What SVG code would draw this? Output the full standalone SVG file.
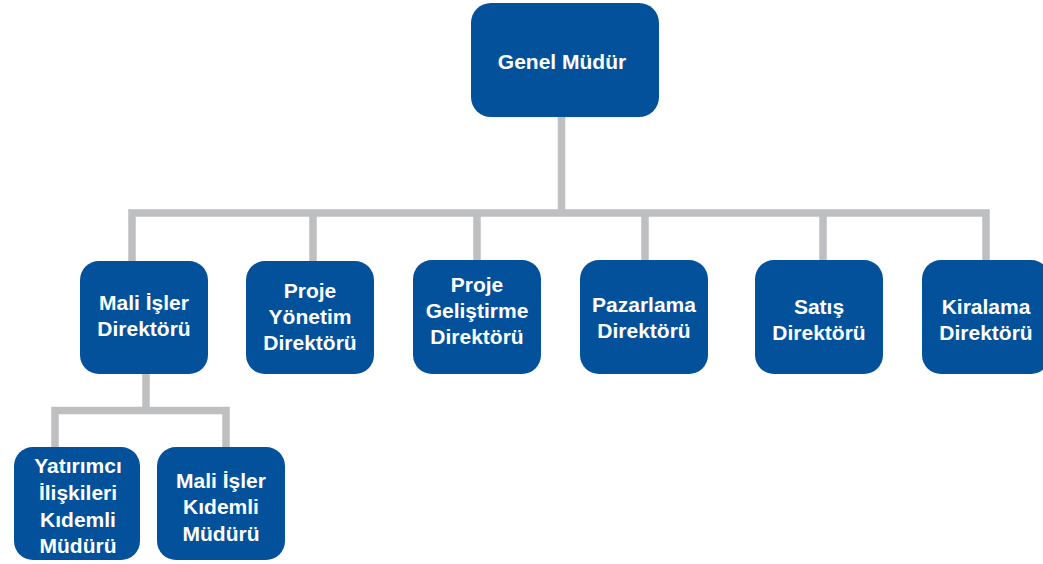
<svg xmlns="http://www.w3.org/2000/svg" width="1043" height="564" viewBox="0 0 1043 564">
<style>
.box{fill:#02519A;}
.t{font-family:"Liberation Sans",Arial,sans-serif;font-weight:bold;font-size:21px;fill:#FFFFFF;text-anchor:middle;}
.c{fill:none;stroke:#BEBFC1;stroke-width:7.5;stroke-linecap:square;stroke-linejoin:miter;}
</style>
<rect width="1043" height="564" fill="#FFFFFF"/>
<g id="connectors">
<path class="c" d="M561.5,117 V213 M132,213 H986 M132,213 V258 M313,213 V258 M477,213 V258 M645,213 V258 M823,213 V258 M986,213 V258"/>
<path class="c" d="M146,374 V410.5 M55,410.5 H226 M55,410.5 V445 M226,410.5 V445"/>
</g>
<g id="genel-mudur">
<rect class="box" x="471" y="3" width="188" height="114" rx="20"/>
<text class="t" x="562" y="69">Genel Müdür</text>
</g>
<g id="mali-isler-direktoru">
<rect class="box" x="80" y="261" width="128" height="113" rx="19"/>
<text class="t" x="144" y="310">Mali İşler</text>
<text class="t" x="144" y="336">Direktörü</text>
</g>
<g id="proje-yonetim-direktoru">
<rect class="box" x="246" y="261" width="128" height="113" rx="19"/>
<text class="t" x="310" y="298">Proje</text>
<text class="t" x="310" y="324">Yönetim</text>
<text class="t" x="310" y="350">Direktörü</text>
</g>
<g id="proje-gelistirme-direktoru">
<rect class="box" x="413" y="260" width="128" height="114" rx="19"/>
<text class="t" x="477" y="292">Proje</text>
<text class="t" x="477" y="318">Geliştirme</text>
<text class="t" x="477" y="344">Direktörü</text>
</g>
<g id="pazarlama-direktoru">
<rect class="box" x="580" y="260" width="128" height="114" rx="19"/>
<text class="t" x="644" y="312">Pazarlama</text>
<text class="t" x="644" y="338">Direktörü</text>
</g>
<g id="satis-direktoru">
<rect class="box" x="755" y="260" width="128" height="114" rx="19"/>
<text class="t" x="819" y="314">Satış</text>
<text class="t" x="819" y="340">Direktörü</text>
</g>
<g id="kiralama-direktoru">
<rect class="box" x="922" y="260" width="128" height="114" rx="19"/>
<text class="t" x="986" y="314">Kiralama</text>
<text class="t" x="986" y="340">Direktörü</text>
</g>
<g id="yatirimci-iliskileri-kidemli-muduru">
<rect class="box" x="14" y="447" width="126" height="113" rx="19"/>
<text class="t" x="78" y="473">Yatırımcı</text>
<text class="t" x="78" y="500">İlişkileri</text>
<text class="t" x="78" y="527">Kıdemli</text>
<text class="t" x="78" y="553">Müdürü</text>
</g>
<g id="mali-isler-kidemli-muduru">
<rect class="box" x="157" y="447" width="128" height="113" rx="19"/>
<text class="t" x="221" y="488">Mali İşler</text>
<text class="t" x="221" y="514">Kıdemli</text>
<text class="t" x="221" y="541">Müdürü</text>
</g>
</svg>
